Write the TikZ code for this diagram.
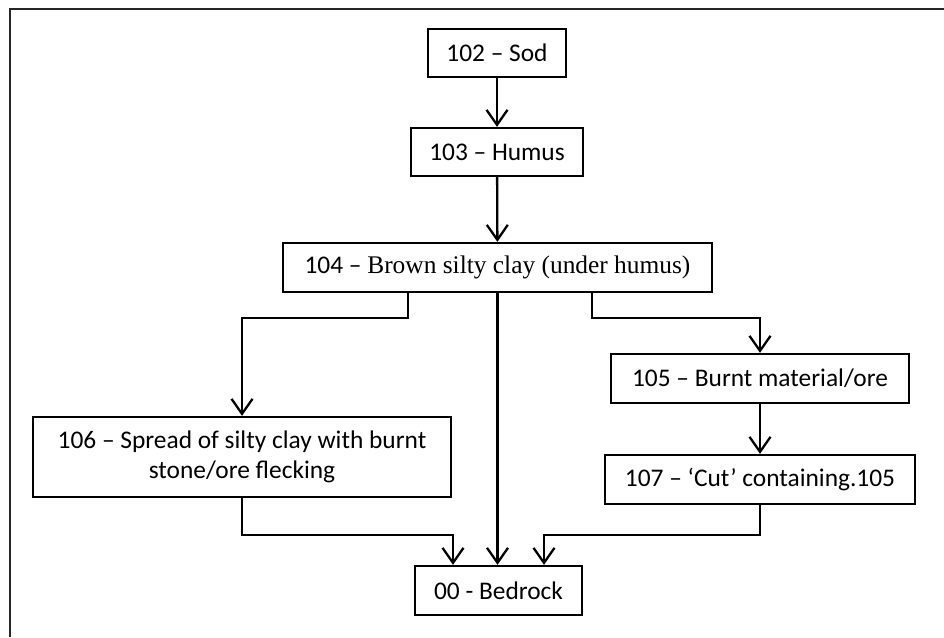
\documentclass[tikz,border=0pt]{standalone}
\usepackage{fontspec}
\setmainfont{Carlito}
\newfontfamily\bookFont{Liberation Serif}
\usetikzlibrary{arrows.meta}
\tikzstyle{sheet} = [x = 1pt, y = -1pt]
\tikzstyle{layerBox} = [draw, line width = 2.3pt, inner sep = 0pt, align = center, font = \fontsize{25.4}{30}\selectfont]
\tikzstyle{flowLine} = [line width = 2.3pt, -{Straight Barb[length = 15pt, width = 21pt, line width = 2.3pt]}]
\tikzstyle{frameLine} = [color = black!85, line width = 2.4pt]
\newcommand{\layer}[6]{\node [layerBox, minimum width = #4pt, minimum height = #5pt] (#1) at (#2, #3) {#6};}
\begin{document}
\begin{tikzpicture}[sheet]
  \useasboundingbox (0,0) rectangle (944,637);
  \draw [frameLine] (10,637) -- (10,9) -- (944,9);

  \layer{sod}{497}{53}{138}{48}{102 -- Sod}
  \layer{humus}{497}{152}{172}{48}{103 -- Humus}
  \layer{brown}{497.5}{267.5}{429}{49}{104 -- {\bookFont Brown silty clay (under humus)}}
  \layer{burnt}{760}{378.5}{298}{49}{105 -- Burnt material/ore}
  \layer{cut}{760}{479.5}{310}{49}{107 -- `Cut' containing.105}
  \layer{spread}{242}{457}{418}{80}{106 -- Spread of silty clay with burnt\\stone/ore flecking}
  \layer{bedrock}{498.5}{590.5}{167}{49}{00 - Bedrock}

  \draw [flowLine] (sod) -- (humus);
  \draw [flowLine] (humus) -- (brown);
  \draw [flowLine] (brown.south) -- (brown.south |- bedrock.north);
  \draw [flowLine] ([xshift = -89.5pt]brown.south) -- ++(0,25) -| (spread.north);
  \draw [flowLine] ([xshift = 94.5pt]brown.south) -- ++(0,25) -| (burnt.north);
  \draw [flowLine] (burnt) -- (cut);
  \draw [flowLine] (spread.south) -- ++(0,37) -| ([xshift = -45.5pt]bedrock.north);
  \draw [flowLine] (cut.south) -- ++(0,30) -| ([xshift = 45.5pt]bedrock.north);
\end{tikzpicture}
\end{document}
